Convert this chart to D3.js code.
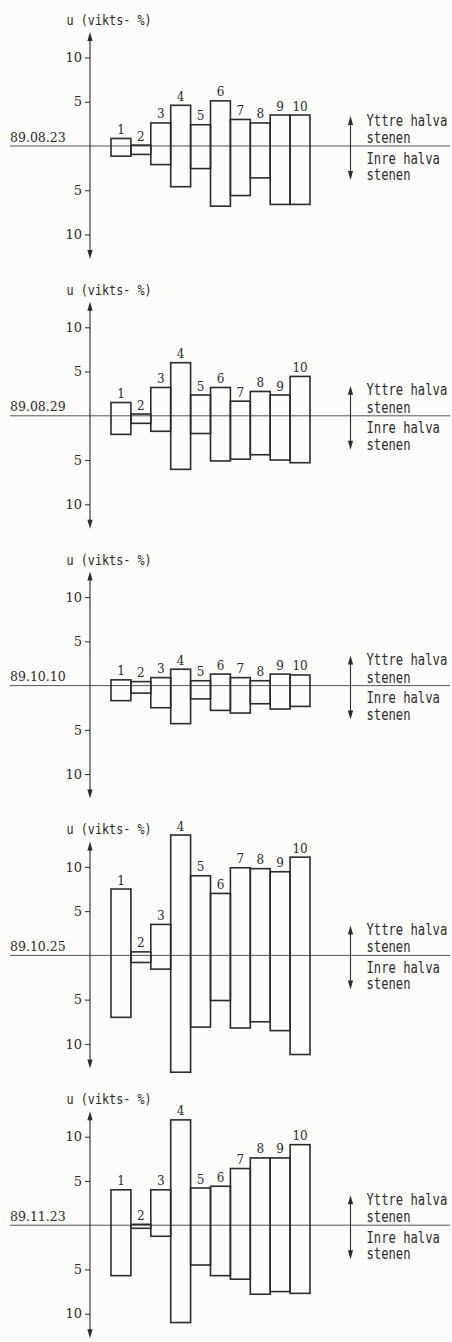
<!DOCTYPE html>
<html>
<head>
<meta charset="utf-8">
<script src="https://cdn.jsdelivr.net/npm/d3@7"></script>
<style>
  html, body { margin: 0; padding: 0; background: #fcfcfa; }
  svg { display: block; }
</style>
</head>
<body>
<div id="chart"></div>
<script>
// Moisture content u (weight-%) per stone section, outer and inner half
const dates = ["89.08.23", "89.08.29", "89.10.10", "89.10.25", "89.11.23"];
const sections = [1, 2, 3, 4, 5, 6, 7, 8, 9, 10];
const tickValues = [10, 5, -5, -10];

// Outer half of the stone ("Yttre halva stenen"), drawn upward
const outer0823 = [0.85, 0.1, 2.6, 4.6, 2.4, 5.1, 3.0, 2.6, 3.5, 3.5];
const outer0829 = [1.5, 0.2, 3.2, 6.0, 2.35, 3.2, 1.65, 2.75, 2.35, 4.45];
const outer1010 = [0.65, 0.45, 0.9, 1.85, 0.55, 1.3, 0.9, 0.55, 1.3, 1.2];
const outer1025 = [7.5, 0.4, 3.5, 13.6, 9.0, 7.0, 9.9, 9.8, 9.45, 11.1];
const outer1123 = [4.0, 0.1, 4.0, 11.9, 4.2, 4.4, 6.4, 7.6, 7.6, 9.1];

// Inner half of the stone ("Inre halva stenen"), drawn downward
const inner0823 = [1.15, 0.95, 2.1, 4.6, 2.55, 6.8, 5.6, 3.6, 6.6, 6.6];
const inner0829 = [2.1, 0.85, 1.75, 6.05, 2.0, 5.1, 4.9, 4.4, 5.0, 5.3];
const inner1010 = [1.7, 0.85, 2.5, 4.3, 1.5, 2.8, 3.1, 2.05, 2.65, 2.35];
const inner1025 = [7.0, 0.8, 1.55, 13.2, 8.1, 5.1, 8.2, 7.5, 8.5, 11.2];
const inner1123 = [5.7, 0.35, 1.25, 11.0, 4.5, 5.7, 6.1, 7.8, 7.5, 7.7];

const outerSeries = [outer0823, outer0829, outer1010, outer1025, outer1123];
const innerSeries = [inner0823, inner0829, inner1010, inner1025, inner1123];

const W = 452, H = 1342;
const ink = "#2b2b2b";
const serif = "'DejaVu Serif', 'Liberation Serif', serif";
const mono = "'DejaVu Sans Mono', 'Liberation Mono', monospace";

const svg = d3.select("#chart").append("svg")
  .attr("width", W).attr("height", H)
  .attr("viewBox", `0 0 ${W} ${H}`);

const axisX = 90;
const x = d3.scaleBand().domain(sections).range([111, 310]).paddingInner(0).paddingOuter(0);

function arrowHead(g, xPos, yTip, dir) {
  // dir = -1 pointing up, +1 pointing down
  const len = 9, half = 2.6;
  g.append("path")
    .attr("d", `M${xPos},${yTip} L${xPos - half},${yTip - dir * len} L${xPos + half},${yTip - dir * len} Z`)
    .attr("fill", ink);
}

dates.forEach((date, i) => {
  const base = 146 + 269.8 * i;
  const y = d3.scaleLinear().domain([-10, 10]).range([base + 88.5, base - 88.5]);
  const g = svg.append("g");

  // horizontal reference line
  g.append("line")
    .attr("x1", 10).attr("x2", 450)
    .attr("y1", y(0)).attr("y2", y(0))
    .attr("stroke", "#555").attr("stroke-width", 1);

  // date label
  g.append("text")
    .attr("x", 10).attr("y", y(0) - 4.5)
    .attr("font-family", serif).attr("font-size", 12.5)
    .attr("fill", ink)
    .text(date);

  // vertical axis with arrows
  const yTop = base - 114, yBot = base + 113;
  g.append("line")
    .attr("x1", axisX).attr("x2", axisX)
    .attr("y1", yTop + 4).attr("y2", yBot - 4)
    .attr("stroke", ink).attr("stroke-width", 1.1);
  arrowHead(g, axisX, yTop, -1);
  arrowHead(g, axisX, yBot, 1);

  const axis = d3.axisLeft(y)
    .tickValues(tickValues)
    .tickFormat(d => Math.abs(d))
    .tickSize(5)
    .tickPadding(3);
  const ag = g.append("g").attr("transform", `translate(${axisX},0)`).call(axis);
  ag.select(".domain").remove();
  ag.selectAll(".tick line").attr("stroke", ink).attr("stroke-width", 1);
  ag.selectAll(".tick text")
    .attr("font-family", serif).attr("font-size", 13)
    .attr("fill", ink);

  // axis title
  g.append("text")
    .attr("transform", `translate(66.5,${base - 121}) scale(1,1.12)`)
    .attr("font-family", mono).attr("font-size", 11.8)
    .attr("fill", ink)
    .text("u (vikts- %)");

  // bars: outer half above the line, inner half below
  const rows = sections.map((s, j) => ({ s, up: outerSeries[i][j], down: innerSeries[i][j] }));
  g.selectAll("rect.bar").data(rows).join("rect")
    .attr("class", "bar")
    .attr("x", d => x(d.s))
    .attr("width", x.bandwidth())
    .attr("y", d => y(d.up))
    .attr("height", d => y(-d.down) - y(d.up))
    .attr("fill", "none")
    .attr("stroke", ink)
    .attr("stroke-width", 1.6);

  g.selectAll("text.num").data(rows).join("text")
    .attr("class", "num")
    .attr("x", d => x(d.s) + x.bandwidth() / 2)
    .attr("y", d => y(d.up) - 4.5)
    .attr("text-anchor", "middle")
    .attr("font-family", serif).attr("font-size", 12)
    .attr("fill", ink)
    .text(d => d.s);

  // legend on the right: outer / inner half
  const ax = 350.5;
  const aTop = y(0) - 30, aBot = y(0) + 34;
  g.append("line")
    .attr("x1", ax).attr("x2", ax)
    .attr("y1", aTop + 4).attr("y2", aBot - 4)
    .attr("stroke", ink).attr("stroke-width", 1.1);
  arrowHead(g, ax, aTop, -1);
  arrowHead(g, ax, aBot, 1);

  const legendLines = [
    { t: "Yttre halva", dy: -20.5 },
    { t: "stenen", dy: -3 },
    { t: "Inre halva", dy: 17.5 },
    { t: "stenen", dy: 34 }
  ];
  g.selectAll("text.leg").data(legendLines).join("text")
    .attr("class", "leg")
    .attr("transform", d => `translate(366.5,${y(0) + d.dy}) scale(1,1.25)`)
    .attr("font-family", mono).attr("font-size", 12.2)
    .attr("fill", ink)
    .text(d => d.t);
});
</script>
</body>
</html>
